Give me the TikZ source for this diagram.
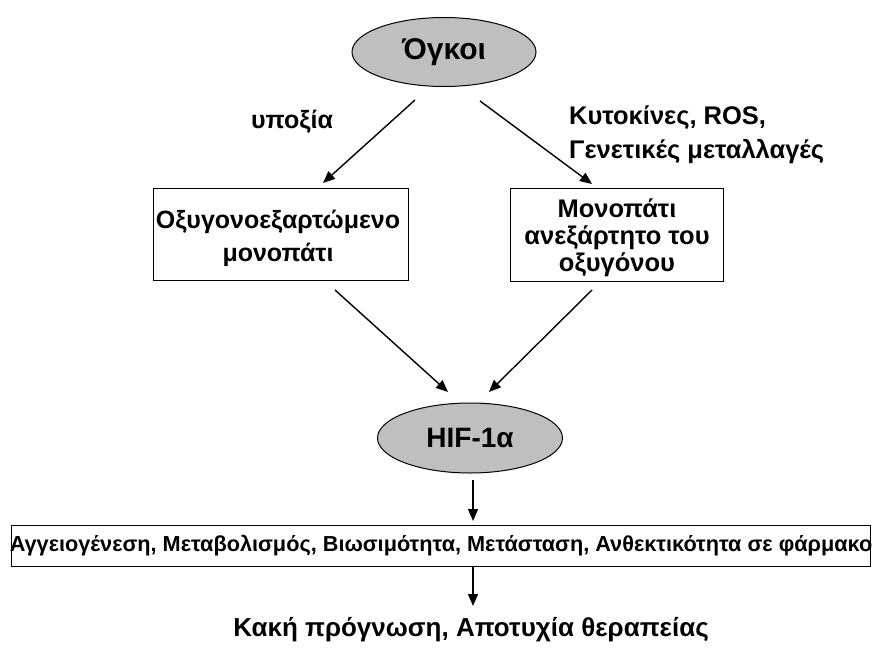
\documentclass[tikz,border=0pt]{standalone}
\usepackage{fontspec}
\setmainfont{Liberation Sans}[BoldFont=Liberation Sans Bold]
\usetikzlibrary{arrows.meta,shapes.geometric}
\begin{document}
\begin{tikzpicture}[x=1pt,y=-1pt,
  every node/.style={font=\bfseries},
  blob/.style={ellipse,draw=black,fill=black!25,line width=1pt,inner sep=0pt},
  pbox/.style={rectangle,draw=black,line width=1pt,inner sep=0pt},
  btext/.style={inner sep=0pt,align=center},
  lbl/.style={inner sep=0pt,align=left},
  arr/.style={-{Triangle[length=12pt,width=10pt]},line width=1.4pt}]
\useasboundingbox (0,0) rectangle (872,650);
% nodes
\node[blob,minimum width=184pt,minimum height=69pt,font=\bfseries\fontsize{30}{34}\selectfont] (onk) at (444,52) {Όγκοι};
\node[pbox,minimum width=255pt,minimum height=92pt] (odep) at (280.5,234) {};
\node[btext,font=\bfseries\fontsize{25}{33}\selectfont] (odept) at (278,238) {Οξυγονοεξαρτώμενο\\μονοπάτι};
\node[pbox,minimum width=213pt,minimum height=93pt] (oind) at (616.5,234.5) {};
\node[btext,font=\bfseries\fontsize{25.5}{27}\selectfont] (oindt) at (617,238) {Μονοπάτι\\ανεξάρτητο του\\οξυγόνου};
\node[blob,minimum width=185pt,minimum height=70pt,font=\bfseries\fontsize{28}{32}\selectfont] (hif) at (470,438) {HIF-1α};
\node[pbox,minimum width=859pt,minimum height=41pt] (eff) at (440.5,545.5) {};
\node[inner sep=0pt,font=\bfseries\fontsize{21.7}{26}\selectfont] (efftext) at (441,545.5) {\makebox[850pt]{Αγγειογένεση, Μεταβολισμός, Βιωσιμότητα, Μετάσταση, Ανθεκτικότητα σε φάρμακο}};
\node[inner sep=0pt,font=\bfseries\fontsize{26}{30}\selectfont] (out) at (471,630) {Κακή πρόγνωση, Αποτυχία θεραπείας};
% labels
\node[lbl,font=\bfseries\fontsize{25}{30}\selectfont] (hyp) at (292,122) {υποξία};
\node[lbl,font=\bfseries\fontsize{25.5}{34}\selectfont,anchor=west] (cyt) at (569,135) {Κυτοκίνες, ROS,\\Γενετικές μεταλλαγές};
% connector end points
\coordinate (a1s) at (415,100);
\coordinate (a1e) at (323,183);
\coordinate (a2s) at (480,101);
\coordinate (a2e) at (592,184);
\coordinate (a3s) at (335,290);
\coordinate (a3e) at (448,392);
\coordinate (a4s) at (592,290);
\coordinate (a4e) at (489,392);
\coordinate (a5s) at (473,480);
\coordinate (a5e) at (473,521);
\coordinate (a6s) at (473,566);
\coordinate (a6e) at (473,606);
% connectors
\draw[arr] (a1s) -- (a1e);
\draw[arr] (a2s) -- (a2e);
\draw[arr] (a3s) -- (a3e);
\draw[arr] (a4s) -- (a4e);
\draw[arr] (a5s) -- (a5e);
\draw[arr] (a6s) -- (a6e);
\end{tikzpicture}
\end{document}
